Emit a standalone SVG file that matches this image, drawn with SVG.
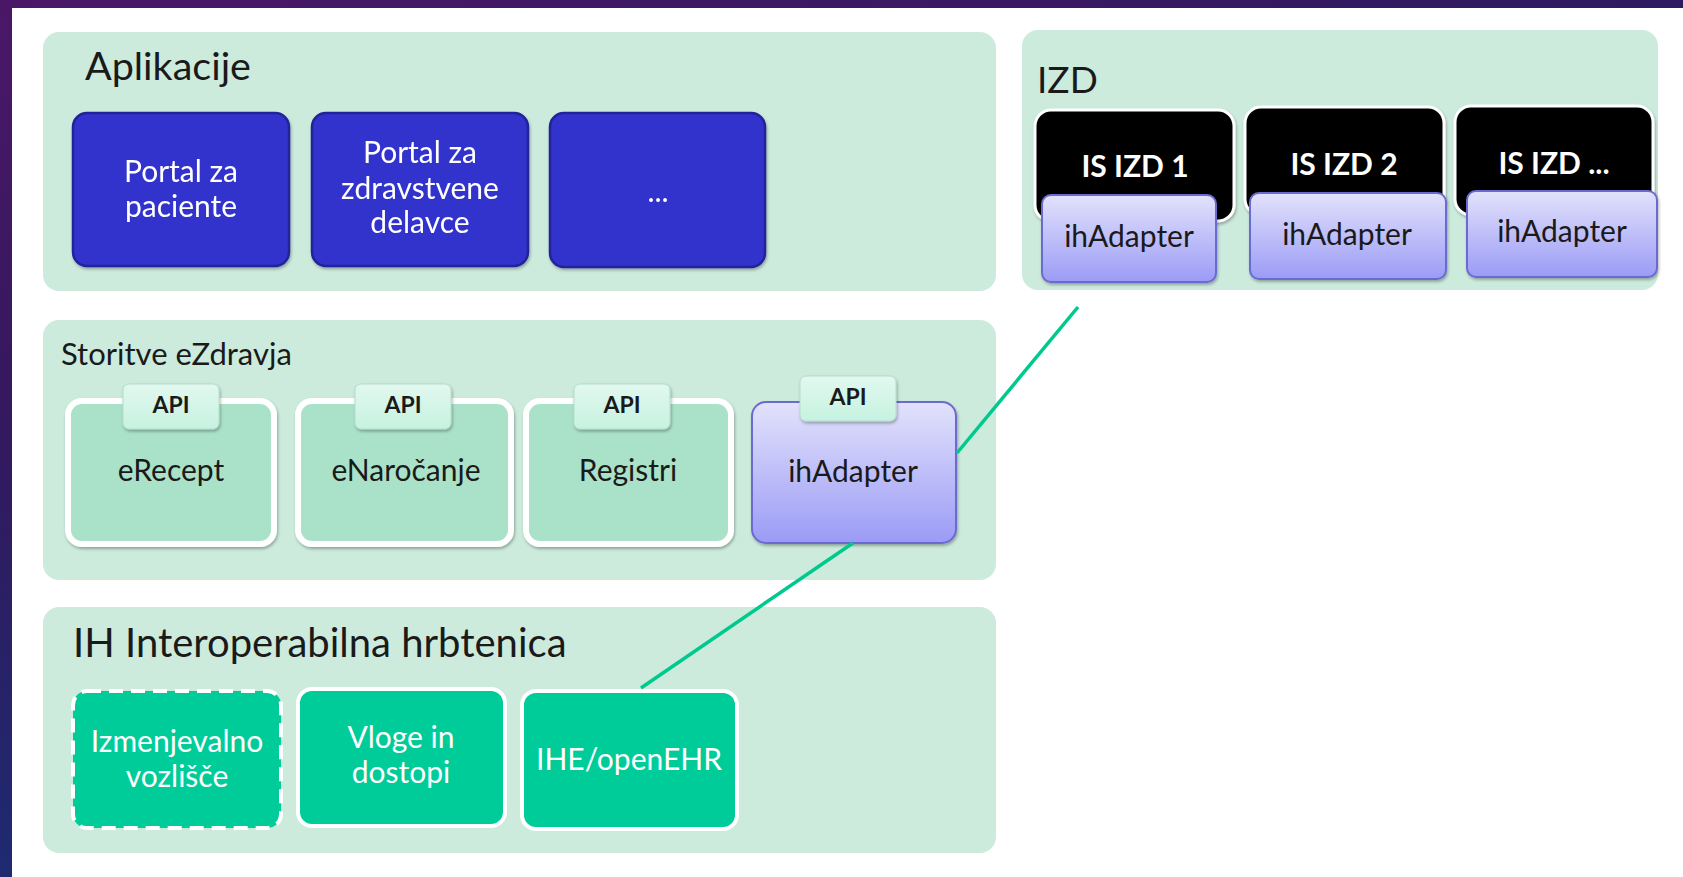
<svg xmlns="http://www.w3.org/2000/svg" width="1683" height="877" viewBox="0 0 1683 877">
<defs>
<linearGradient id="bg" x1="0" y1="0" x2="0" y2="1">
<stop offset="0" stop-color="#4a1766"/>
<stop offset="0.5" stop-color="#33195e"/>
<stop offset="1" stop-color="#1e2a70"/>
</linearGradient>
<linearGradient id="topbar" x1="0" y1="0" x2="1" y2="0">
<stop offset="0" stop-color="#4a1766"/>
<stop offset="1" stop-color="#2e1a60"/>
</linearGradient>
<linearGradient id="lav" x1="0" y1="0" x2="0" y2="1">
<stop offset="0" stop-color="#e2e2fc"/>
<stop offset="1" stop-color="#9b9bf6"/>
</linearGradient>
<linearGradient id="api" x1="0" y1="0" x2="0" y2="1">
<stop offset="0" stop-color="#e2f8ef"/>
<stop offset="1" stop-color="#c6f2e0"/>
</linearGradient>
<filter id="sh" x="-10%" y="-10%" width="130%" height="140%">
<feDropShadow dx="1" dy="2" stdDeviation="1.5" flood-color="#000" flood-opacity="0.3"/>
</filter>
</defs>
<style>
.panel{fill:#ccebdd}
.title{font-family:Lato,"Open Sans",sans-serif;fill:#1a1a1a}
.blue{fill:#3333cc;stroke:#22229a;stroke-width:2.5}
.wtxt{font-family:Lato,"Open Sans",sans-serif;fill:#ffffff;font-size:30px;text-anchor:middle}
.svc{fill:#aae2c9;stroke:#ffffff;stroke-width:6}
.apitab{fill:url(#api);stroke:#b5dccb;stroke-width:1}
.apitxt{font-family:Lato,"Open Sans",sans-serif;font-weight:bold;font-size:23px;fill:#1a1a1a;text-anchor:middle}
.lbl{font-family:Lato,"Open Sans",sans-serif;font-size:30px;fill:#1a1a1a;text-anchor:middle}
.lav{fill:url(#lav);stroke:#6a6ad2;stroke-width:2}
.blk{fill:#000000;stroke:#ffffff;stroke-width:3}
.btxt{font-family:Lato,"Open Sans",sans-serif;font-weight:bold;font-size:30px;fill:#ffffff;text-anchor:middle}
.grn{fill:#00cc99;stroke:#ffffff;stroke-width:4}
.conn{stroke:#00c98d;stroke-width:3.5;fill:none}
</style>
<rect x="0" y="0" width="1683" height="877" fill="url(#bg)"/>
<rect x="0" y="0" width="1683" height="8" fill="url(#topbar)"/>
<rect x="12" y="8" width="1671" height="869" fill="#ffffff"/>

<g id="panel-aplikacije">
<rect class="panel" x="43" y="32" width="953" height="259" rx="16"/>
<text class="title" x="85" y="80" font-size="39.5">Aplikacije</text>
</g>
<g id="portal-pacienti" filter="url(#sh)">
<rect class="blue" x="73" y="113" width="216" height="153" rx="14"/>
<text class="wtxt" x="181" y="182">Portal za</text>
<text class="wtxt" x="181" y="217">paciente</text>
</g>
<g id="portal-delavci" filter="url(#sh)">
<rect class="blue" x="312" y="113" width="216" height="153" rx="14"/>
<text class="wtxt" x="420" y="163">Portal za</text>
<text class="wtxt" x="420" y="199">zdravstvene</text>
<text class="wtxt" x="420" y="233">delavce</text>
</g>
<g id="app-more" filter="url(#sh)">
<rect class="blue" x="550" y="113" width="215" height="154" rx="14"/>
<text class="wtxt" x="658" y="202" font-size="26">...</text>
</g>

<g id="panel-izd">
<rect class="panel" x="1022" y="30" width="636" height="260" rx="16"/>
<text class="title" x="1037" y="93" font-size="37">IZD</text>
</g>
<g id="is-izd-1">
<rect class="blk" x="1035" y="110" width="199" height="111" rx="16" filter="url(#sh)"/>
<text class="btxt" x="1135" y="177">IS IZD 1</text>
<g filter="url(#sh)">
<rect class="lav" x="1042" y="195" width="174" height="87" rx="9"/>
</g>
<text class="lbl" x="1129" y="247">ihAdapter</text>
</g>
<g id="is-izd-2">
<rect class="blk" x="1245" y="107" width="199" height="108" rx="16" filter="url(#sh)"/>
<text class="btxt" x="1344" y="175">IS IZD 2</text>
<g filter="url(#sh)">
<rect class="lav" x="1250" y="193" width="196" height="86" rx="9"/>
</g>
<text class="lbl" x="1347" y="245">ihAdapter</text>
</g>
<g id="is-izd-n">
<rect class="blk" x="1455" y="106" width="198" height="109" rx="16" filter="url(#sh)"/>
<text class="btxt" x="1554" y="174">IS IZD ...</text>
<g filter="url(#sh)">
<rect class="lav" x="1467" y="191" width="190" height="86" rx="9"/>
</g>
<text class="lbl" x="1562" y="242">ihAdapter</text>
</g>

<g id="panel-storitve">
<rect class="panel" x="43" y="320" width="953" height="260" rx="16"/>
<text class="title" x="61" y="365" font-size="31">Storitve eZdravja</text>
</g>
<g id="erecept">
<rect class="svc" x="68" y="401" width="206" height="143" rx="14" filter="url(#sh)"/>
<rect class="apitab" x="123" y="384" width="96" height="45" rx="6" filter="url(#sh)"/>
<text class="apitxt" x="171" y="413">API</text>
<text class="lbl" x="171" y="481">eRecept</text>
</g>
<g id="enarocanje">
<rect class="svc" x="298" y="401" width="213" height="143" rx="14" filter="url(#sh)"/>
<rect class="apitab" x="355" y="384" width="96" height="45" rx="6" filter="url(#sh)"/>
<text class="apitxt" x="403" y="413">API</text>
<text class="lbl" x="406" y="481">eNaročanje</text>
</g>
<g id="registri">
<rect class="svc" x="526" y="401" width="205" height="143" rx="14" filter="url(#sh)"/>
<rect class="apitab" x="574" y="384" width="96" height="45" rx="6" filter="url(#sh)"/>
<text class="apitxt" x="622" y="413">API</text>
<text class="lbl" x="628" y="481">Registri</text>
</g>
<g id="ihadapter-storitve">
<rect class="lav" x="752" y="402" width="204" height="141" rx="14" filter="url(#sh)"/>
<rect class="apitab" x="800" y="376" width="96" height="45" rx="6" filter="url(#sh)"/>
<text class="apitxt" x="848" y="405">API</text>
<text class="lbl" x="853" y="482">ihAdapter</text>
</g>

<g id="panel-ih">
<rect class="panel" x="43" y="607" width="953" height="246" rx="16"/>
<text class="title" x="73" y="657" font-size="40">IH Interoperabilna hrbtenica</text>
</g>
<g id="izmenjevalno">
<rect class="grn" x="73" y="691" width="208" height="137" rx="14" stroke-dasharray="14 8"/>
<text class="wtxt" x="177" y="752">Izmenjevalno</text>
<text class="wtxt" x="177" y="787">vozlišče</text>
</g>
<g id="vloge">
<rect class="grn" x="298" y="689" width="207" height="137" rx="14"/>
<text class="wtxt" x="401" y="748">Vloge in</text>
<text class="wtxt" x="401" y="783">dostopi</text>
</g>
<g id="ihe-openehr">
<rect class="grn" x="522" y="691" width="215" height="138" rx="14"/>
<text class="wtxt" x="629" y="770">IHE/openEHR</text>
</g>

<g id="connectors">
<line class="conn" x1="1078" y1="307" x2="957" y2="453"/>
<line class="conn" x1="853" y1="543" x2="641" y2="688"/>
</g>
</svg>
